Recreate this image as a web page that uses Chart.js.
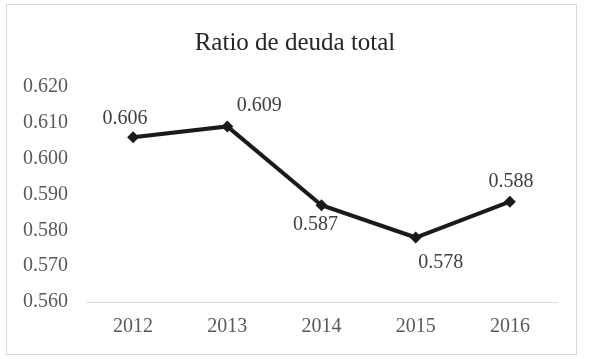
<!DOCTYPE html>
<html>
<head>
<meta charset="utf-8">
<script src="https://cdn.jsdelivr.net/npm/chart.js@4"></script>
<style>
  html, body { margin: 0; padding: 0; background: #fff; }
  #wrap { position: relative; width: 589px; height: 359px; }
</style>
</head>
<body>
<div id="wrap"><canvas id="chart" width="589" height="359"></canvas></div>
<script>
// Chart data
const chartTitle = 'Ratio de deuda total';
const years = ['2012', '2013', '2014', '2015', '2016'];
const debtRatio = [0.606, 0.609, 0.587, 0.578, 0.588];
const yTicks = [0.560, 0.570, 0.580, 0.590, 0.600, 0.610, 0.620];

// where each value label sits relative to its point (dx, dy in px)
const labelOffsets = [[-8, -18], [32, -21], [-6, 19], [25, 25], [1, -20]];

const serif = '"Liberation Serif", "Times New Roman", serif';

// outer frame like the spreadsheet chart border, plus the title centred in it
const framePlugin = {
  id: 'frame',
  beforeDraw(chart) {
    const ctx = chart.ctx;
    ctx.save();
    ctx.fillStyle = '#fff';
    ctx.fillRect(0, 0, chart.width, chart.height);
    ctx.strokeStyle = '#d9d9d9';
    ctx.lineWidth = 1;
    ctx.strokeRect(6.5, 4.5, 570, 350);
    ctx.font = '25px ' + serif;
    ctx.fillStyle = '#262626';
    ctx.textAlign = 'center';
    ctx.textBaseline = 'middle';
    ctx.fillText(chartTitle, 295, 43);
    ctx.restore();
  }
};

// value labels next to each point
const valueLabels = {
  id: 'valueLabels',
  afterDatasetsDraw(chart) {
    const ctx = chart.ctx;
    const meta = chart.getDatasetMeta(0);
    ctx.save();
    ctx.font = '20px ' + serif;
    ctx.fillStyle = '#404040';
    ctx.textAlign = 'center';
    ctx.textBaseline = 'middle';
    meta.data.forEach((pt, i) => {
      const [dx, dy] = labelOffsets[i];
      ctx.fillText(debtRatio[i].toFixed(3), pt.x + dx, pt.y + dy);
    });
    ctx.restore();
  }
};

const ctx = document.getElementById('chart').getContext('2d');
new Chart(ctx, {
  type: 'line',
  data: {
    labels: years,
    datasets: [{
      data: debtRatio,
      borderColor: '#1a1a1a',
      backgroundColor: '#1a1a1a',
      borderWidth: 4,
      pointStyle: 'rectRot',
      pointRadius: 6,
      pointBorderWidth: 0,
      tension: 0,
      fill: false
    }]
  },
  options: {
    responsive: false,
    animation: false,
    layout: { padding: { left: 0, right: 32, top: 87, bottom: 0 } },
    plugins: {
      legend: { display: false },
      tooltip: { enabled: false },
      title: { display: false }
    },
    scales: {
      x: {
        offset: true,
        grid: { display: false, drawTicks: false },
        border: { display: true, color: '#d9d9d9', width: 1 },
        ticks: { color: '#595959', font: { family: serif, size: 20 }, padding: 13 },
        afterFit(scale) { scale.height = 57; }
      },
      y: {
        min: 0.56,
        max: 0.62,
        afterBuildTicks(scale) { scale.ticks = yTicks.map(v => ({ value: v })); },
        grid: { display: false, drawTicks: false },
        border: { display: false },
        ticks: {
          color: '#595959',
          font: { family: serif, size: 20 },
          padding: 18,
          callback: v => v.toFixed(3)
        },
        afterFit(scale) { scale.width = 86; }
      }
    }
  },
  plugins: [framePlugin, valueLabels]
});
</script>
</body>
</html>
